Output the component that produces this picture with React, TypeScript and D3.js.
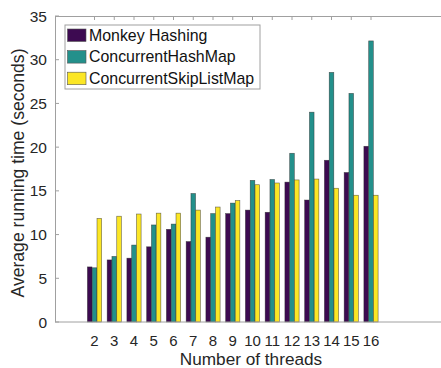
import React, { useEffect, useRef } from 'react';
import * as d3 from 'd3';

const threads = [2, 3, 4, 5, 6, 7, 8, 9, 10, 11, 12, 13, 14, 15, 16];
const monkeyHashing = [6.3, 7.1, 7.3, 8.6, 10.6, 9.2, 9.7, 12.4, 12.8, 12.55, 16.0, 13.95, 18.5, 17.1, 20.1];
const concurrentHashMap = [6.2, 7.5, 8.8, 11.1, 11.2, 14.7, 12.4, 13.6, 16.2, 16.3, 19.3, 24.0, 28.55, 26.15, 32.15];
const concurrentSkipListMap = [11.85, 12.1, 12.35, 12.45, 12.45, 12.8, 13.15, 13.9, 15.7, 15.9, 16.25, 16.35, 15.3, 14.5, 14.5];
const seriesNames = ['Monkey Hashing', 'ConcurrentHashMap', 'ConcurrentSkipListMap'];
const yTicks = [0, 5, 10, 15, 20, 25, 30, 35];

const colors = ['#3d0a51', '#23908b', '#fbe625'];
const font = '"Liberation Sans", Arial, sans-serif';
const axisGrey = '#a0a0a0';

const App = () => {
  const svgRef = useRef<SVGSVGElement>(null);

  useEffect(() => {
    const svg = d3.select(svgRef.current);
    svg.selectAll('*').remove();

    const left = 55, top = 16, bottom = 322, right = 450;
    const frameEnd = 441;

    const x = d3.scaleLinear().domain([0, 20]).range([left, right]);
    const y = d3.scaleLinear().domain([0, 35]).range([bottom, top]);

    const series = [monkeyHashing, concurrentHashMap, concurrentSkipListMap];
    const barW = 4.6;
    const offsets = [-4.8, 0, 4.8];

    // axes frame: left and top only, the right side runs off the picture
    svg.append('line')
      .attr('x1', left + 0.5).attr('x2', left + 0.5)
      .attr('y1', top).attr('y2', bottom)
      .attr('stroke', axisGrey);
    svg.append('line')
      .attr('x1', left).attr('x2', frameEnd)
      .attr('y1', top + 0.5).attr('y2', top + 0.5)
      .attr('stroke', axisGrey);

    // y ticks
    yTicks.forEach(t => {
      svg.append('line')
        .attr('x1', left).attr('x2', left + 4)
        .attr('y1', y(t)).attr('y2', y(t))
        .attr('stroke', axisGrey);
      svg.append('text')
        .attr('x', 47).attr('y', y(t) + 5.5)
        .attr('text-anchor', 'end')
        .attr('font-family', font)
        .attr('font-size', 15.5)
        .attr('fill', '#262626')
        .text(t);
    });

    // x ticks (top and bottom)
    threads.forEach(t => {
      svg.append('line')
        .attr('x1', x(t)).attr('x2', x(t))
        .attr('y1', bottom).attr('y2', bottom - 4)
        .attr('stroke', axisGrey);
      svg.append('line')
        .attr('x1', x(t)).attr('x2', x(t))
        .attr('y1', top).attr('y2', top + 4)
        .attr('stroke', axisGrey);
      svg.append('text')
        .attr('x', x(t)).attr('y', 346)
        .attr('text-anchor', 'middle')
        .attr('font-family', font)
        .attr('font-size', 15)
        .attr('fill', '#262626')
        .text(t);
    });

    // bars
    series.forEach((vals, si) => {
      svg.selectAll('.bar' + si)
        .data(vals)
        .enter()
        .append('rect')
        .attr('x', (d, i) => x(threads[i]) + offsets[si] - barW / 2)
        .attr('y', d => y(d))
        .attr('width', barW)
        .attr('height', d => y(0) - y(d))
        .attr('fill', colors[si])
        .attr('stroke', '#2a2a2a')
        .attr('stroke-opacity', 0.7)
        .attr('stroke-width', 0.6);
    });

    // baseline over bars
    svg.append('line')
      .attr('x1', left).attr('x2', frameEnd)
      .attr('y1', bottom).attr('y2', bottom)
      .attr('stroke', axisGrey);

    // legend
    svg.append('rect')
      .attr('x', 65).attr('y', 25)
      .attr('width', 195).attr('height', 64)
      .attr('fill', 'white')
      .attr('stroke', axisGrey);

    seriesNames.forEach((name, i) => {
      const cy = 35 + i * 21.6;
      svg.append('rect')
        .attr('x', 67.5).attr('y', cy - 6)
        .attr('width', 18.5).attr('height', 12.5)
        .attr('fill', colors[i])
        .attr('stroke', '#555')
        .attr('stroke-width', 0.6);
      svg.append('text')
        .attr('x', 89).attr('y', cy + 5.5)
        .attr('font-family', font)
        .attr('font-size', 15.9)
        .attr('fill', '#111')
        .text(name);
    });

    // axis titles
    svg.append('text')
      .attr('x', 251).attr('y', 365)
      .attr('text-anchor', 'middle')
      .attr('font-family', font)
      .attr('font-size', 17.2)
      .attr('fill', '#262626')
      .text('Number of threads');

    svg.append('text')
      .attr('transform', 'translate(23.5, 173) rotate(-90)')
      .attr('text-anchor', 'middle')
      .attr('font-family', font)
      .attr('font-size', 17.6)
      .attr('fill', '#262626')
      .text('Average running time (seconds)');
  }, []);

  return (
    <svg
      ref={svgRef}
      width={441}
      height={368}
      style={{ position: 'absolute', left: 0, top: 0, background: 'white' }}
    ></svg>
  );
};

export default App;
